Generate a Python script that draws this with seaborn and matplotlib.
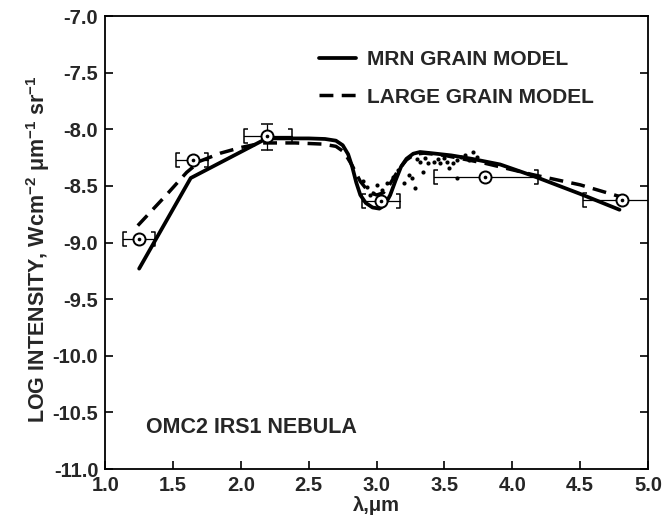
import numpy as np
import pandas as pd
import seaborn as sns
import matplotlib
matplotlib.use("Agg")
import matplotlib.pyplot as plt
from matplotlib.path import Path

# ---------------- data ----------------
mrn_x = [1.25, 1.63, 2.19, 2.30, 2.50, 2.62, 2.70, 2.75, 2.79, 2.82, 2.85, 2.88, 2.92, 2.97, 3.02,
         3.06, 3.10, 3.14, 3.18, 3.22, 3.27, 3.32, 3.40, 3.55, 3.70, 3.91, 4.15, 4.50, 4.79]
mrn_y = [-9.23, -8.43, -8.08, -8.08, -8.08, -8.085, -8.10, -8.14, -8.22, -8.33, -8.47, -8.58, -8.65, -8.69, -8.70,
         -8.67, -8.58, -8.45, -8.33, -8.26, -8.215, -8.20, -8.21, -8.23, -8.26, -8.31, -8.41, -8.57, -8.71]

lg_x = [1.24, 1.45, 1.60, 1.70, 1.85, 2.00, 2.16, 2.40, 2.60, 2.70, 2.76, 2.82, 2.88, 2.94, 3.00,
        3.05, 3.10, 3.16, 3.22, 3.28, 3.35, 3.50, 3.80, 4.15, 4.50, 4.81]
lg_y = [-8.85, -8.58, -8.38, -8.28, -8.21, -8.16, -8.12, -8.12, -8.13, -8.15, -8.20, -8.32, -8.46, -8.55, -8.58,
        -8.56, -8.48, -8.36, -8.27, -8.22, -8.21, -8.23, -8.30, -8.40, -8.49, -8.60]

obs_x = [1.25, 1.65, 2.19, 3.03, 3.80, 4.81]
obs_y = [-8.97, -8.27, -8.06, -8.63, -8.42, -8.62]
obs_xlo = [1.13, 1.52, 2.02, 2.89, 3.42, 4.52]
obs_xhi = [1.37, 1.76, 2.38, 3.17, 4.19, 5.00]
obs_ylo = [None, None, -8.18, None, None, None]
obs_yhi = [None, None, -7.95, None, None, None]

dot_x = [2.90, 2.93, 2.95, 2.97, 3.00, 3.04, 3.08, 3.12, 3.16, 3.20, 3.24, 3.26, 3.28, 3.30, 3.32, 3.34,
         3.36, 3.38, 3.42, 3.45, 3.47, 3.50, 3.52, 3.53, 3.56, 3.59, 3.59, 3.62, 3.65, 3.68, 3.71, 3.74]
dot_y = [-8.46, -8.51, -8.58, -8.56, -8.49, -8.54, -8.47, -8.42, -8.36, -8.47, -8.40, -8.43, -8.52, -8.26, -8.29, -8.38,
         -8.25, -8.30, -8.29, -8.26, -8.30, -8.25, -8.29, -8.34, -8.30, -8.43, -8.27, -8.24, -8.23, -8.27, -8.20, -8.24]

xticks = [1.0, 1.5, 2.0, 2.5, 3.0, 3.5, 4.0, 4.5, 5.0]
yticks = [-7.0, -7.5, -8.0, -8.5, -9.0, -9.5, -10.0, -10.5, -11.0]

# ---------------- style ----------------
sns.set_theme(style="white")
plt.rcParams['font.family'] = ['Liberation Sans', 'DejaVu Sans']
plt.rcParams['mathtext.fontset'] = 'custom'
plt.rcParams['mathtext.rm'] = 'Liberation Sans:bold'
plt.rcParams['mathtext.it'] = 'Liberation Sans:bold'
plt.rcParams['mathtext.bf'] = 'Liberation Sans:bold'

fig = plt.figure(figsize=(6.66, 5.20), dpi=100)
ax = fig.add_axes([0.158, 0.098, 0.815, 0.871])

mrn = pd.DataFrame({"x": mrn_x, "y": mrn_y})
lg = pd.DataFrame({"x": lg_x, "y": lg_y})
dots = pd.DataFrame({"x": dot_x, "y": dot_y})

sns.lineplot(data=mrn, x="x", y="y", ax=ax, color="black", lw=2.7, sort=False,
             label="MRN GRAIN MODEL")
sns.lineplot(data=lg, x="x", y="y", ax=ax, color="black", lw=2.5, sort=False,
             label="LARGE GRAIN MODEL")
ax.lines[1].set_dashes([4.0, 2.4])
sns.scatterplot(data=dots, x="x", y="y", ax=ax, color="black", s=9, linewidth=0, zorder=3)

# observed points with bracket error bars
lb = Path([(0.6, 1), (0, 1), (0, -1), (0.6, -1)],
          [Path.MOVETO, Path.LINETO, Path.LINETO, Path.LINETO])
rb = Path([(-0.6, 1), (0, 1), (0, -1), (-0.6, -1)],
          [Path.MOVETO, Path.LINETO, Path.LINETO, Path.LINETO])
for i in range(len(obs_x)):
    ax.plot([obs_xlo[i], obs_xhi[i]], [obs_y[i], obs_y[i]], color="black", lw=0.9, zorder=4)
    ax.plot([obs_xlo[i]], [obs_y[i]], marker=lb, ms=10, mfc="none", mec="black", mew=1.1, zorder=4)
    if obs_xhi[i] < 5.0:
        ax.plot([obs_xhi[i]], [obs_y[i]], marker=rb, ms=10, mfc="none", mec="black", mew=1.1, zorder=4)
    if obs_ylo[i] is not None:
        ax.errorbar([obs_x[i]], [obs_y[i]],
                    yerr=[[obs_y[i] - obs_ylo[i]], [obs_yhi[i] - obs_y[i]]],
                    fmt="none", ecolor="black", elinewidth=0.9, capsize=4, capthick=1.1, zorder=4)
sns.scatterplot(x=obs_x, y=obs_y, ax=ax, marker="o", s=75, facecolor="white",
                edgecolor="black", linewidth=1.4, zorder=5)
sns.scatterplot(x=obs_x, y=obs_y, ax=ax, marker="o", s=7, color="black",
                linewidth=0, zorder=6)

# axes
ax.set_xlim(1.0, 5.0)
ax.set_ylim(-11.0, -7.0)
ax.set_xticks(xticks)
ax.set_yticks(yticks)
ax.set_xticklabels([f"{t:.1f}" for t in xticks], fontsize=14.5, fontweight="bold")
ax.set_yticklabels([f"{t:.1f}" for t in yticks], fontsize=14.5, fontweight="bold")
ax.tick_params(axis="both", direction="in", length=6, width=1.2, color="black",
               right=True, top=False, bottom=True, left=True, pad=5)
for s in ax.spines.values():
    s.set_color("black")
    s.set_linewidth(1.3)

ax.set_xlabel("λ,μm", fontsize=14.5, fontweight="bold", labelpad=1)
ax.set_ylabel(r"LOG INTENSITY, Wcm$^{-2}$ $\mu$m$^{-1}$ sr$^{-1}$", fontsize=15.5,
              fontweight="bold")
ax.yaxis.set_label_coords(-0.098, 0.485)

ax.text(1.3, -10.63, "OMC2 IRS1 NEBULA", fontsize=15.5, fontweight="bold",
        ha="left", va="center")

leg = ax.legend(loc="upper left", bbox_to_anchor=(0.378, 0.944), frameon=False,
                fontsize=15, handlelength=1.8, handletextpad=0.5, labelspacing=0.9,
                borderaxespad=0.0)
for t in leg.get_texts():
    t.set_fontweight("bold")

fig.savefig("out.png", dpi=100)
